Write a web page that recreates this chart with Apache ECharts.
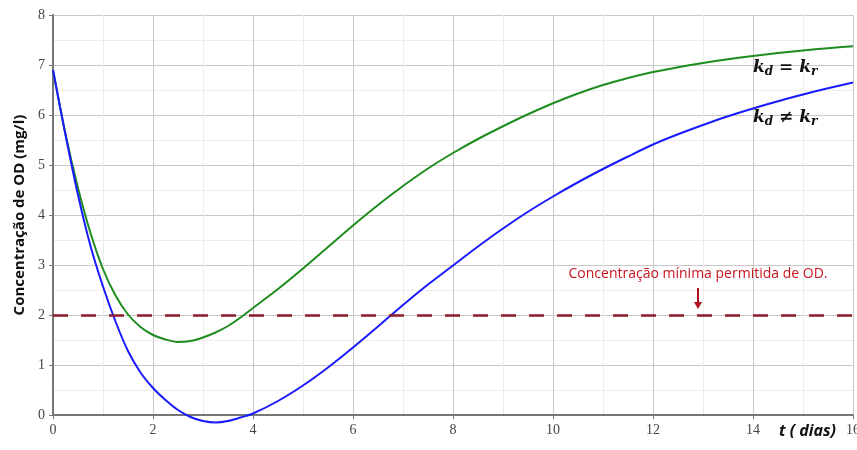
<!DOCTYPE html>
<html><head><meta charset="utf-8">
<script src="https://cdn.jsdelivr.net/npm/echarts@6/dist/echarts.min.js"></script>
<style>html,body{margin:0;padding:0;background:#fff}#c{width:857px;height:450px}</style>
</head><body><div id="c"></div>
<script>
// t (days): every 0.25 day up to 4, then every 0.5 day
const tDays = [0,0.25,0.5,0.75,1,1.25,1.5,1.75,2,2.25,2.5,2.75,3,3.25,3.5,3.75,4,
  4.5,5,5.5,6,6.5,7,7.5,8,8.5,9,9.5,10,10.5,11,11.5,12,12.5,13,13.5,14,14.5,15,15.5,16];
// DO concentration, kd = kr (green)
const greenY = [6.9,5.62,4.54,3.64,2.92,2.39,2.01,1.76,1.6,1.51,1.46,1.48,1.55,1.65,1.78,1.95,2.14,
  2.52,2.93,3.36,3.79,4.2,4.58,4.93,5.24,5.52,5.775,6.015,6.235,6.43,6.6,6.74,6.86,6.955,7.04,7.115,7.18,7.24,7.29,7.335,7.375];
// DO concentration, kd ≠ kr (blue)
const blueY = [6.9,5.6,4.4,3.38,2.57,1.87,1.28,0.85,0.54,0.3,0.1,-0.04,-0.12,-0.15,-0.12,-0.05,0.03,
  0.28,0.59,0.95,1.35,1.77,2.2,2.61,2.99,3.37,3.73,4.065,4.37,4.655,4.92,5.17,5.41,5.615,5.8,5.975,6.13,6.275,6.41,6.535,6.65];
const minDO = 2;
const xTicks = [0,2,4,6,8,10,12,14,16];
const yTicks = [0,1,2,3,4,5,6,7,8];
const annotText = 'Concentração mínima permitida de OD.';
const annotT = 12.9;

const chart = echarts.init(document.getElementById('c'), null, {renderer:'canvas'});
const tickFont = {fontFamily:'Liberation Serif', fontSize:14, color:'#444'};
chart.setOption({
  animation:false,
  grid:{left:53, right:4, top:15, bottom:35, containLabel:false, outerBoundsMode:'none'},
  xAxis:{type:'value', min:0, max:16, interval:2,
    axisLine:{show:true, onZero:false, lineStyle:{color:'#777', width:2}},
    axisTick:{show:true, length:4, lineStyle:{color:'#777'}},
    axisLabel:Object.assign({margin:8, formatter:v=>xTicks.includes(v)?String(v):''}, tickFont),
    splitLine:{show:true, lineStyle:{color:'#c8c8c8', width:1}},
    minorTick:{show:false, splitNumber:2},
    minorSplitLine:{show:true, lineStyle:{color:'#ececec', width:1}}
  },
  yAxis:{type:'value', min:0, max:8, interval:1,
    axisLine:{show:true, onZero:false, lineStyle:{color:'#777', width:2}},
    axisTick:{show:true, length:4, lineStyle:{color:'#777'}},
    axisLabel:Object.assign({margin:8, formatter:v=>yTicks.includes(v)?String(v):''}, tickFont),
    splitLine:{show:true, lineStyle:{color:'#c8c8c8', width:1}},
    minorTick:{show:false, splitNumber:2},
    minorSplitLine:{show:true, lineStyle:{color:'#ececec', width:1}},
    name:'Concentração de OD (mg/l)', nameLocation:'middle', nameGap:26,
    nameTextStyle:{fontFamily:'Open Sans', fontWeight:'bold', fontSize:15, color:'#111'}
  },
  series:[
    {type:'line', name:'kd=kr', data:tDays.map((t,i)=>[t,greenY[i]]), smooth:0.3, showSymbol:false, clip:false,
     lineStyle:{color:'#1f8c1f', width:2}, z:3,
     markLine:{silent:true, symbol:'none', label:{show:false},
       lineStyle:{color:'#8b1a2b', type:[15,13], width:2.5}, data:[{yAxis:minDO}]}},
    {type:'line', name:'kd≠kr', data:tDays.map((t,i)=>[t,blueY[i]]), smooth:0.3, showSymbol:false, clip:false,
     lineStyle:{color:'#1a1aff', width:2}, z:4}
  ]
});

function px(t,y){return chart.convertToPixel({gridIndex:0},[t,y]);}
const pA = px(annotT, minDO);
const pText = px(annotT, 2.82);
const rich = {k:{fontFamily:'DejaVu Serif', fontStyle:'italic', fontWeight:'bold', fontSize:17, fill:'#111'},
              s:{fontFamily:'DejaVu Serif', fontStyle:'italic', fontWeight:'bold', fontSize:12, fill:'#111', padding:[8,0,0,0]}};
chart.setOption({graphic:[
  {type:'text', x:pText[0], y:pText[1], style:{text:annotText, fill:'#c8141e', font:'14px "Open Sans"', align:'center', verticalAlign:'middle'}},
  {type:'line', shape:{x1:pA[0], y1:pA[1]-27, x2:pA[0], y2:pA[1]-12}, style:{stroke:'#b0101c', lineWidth:2}},
  {type:'polygon', shape:{points:[[pA[0]-4,pA[1]-13],[pA[0]+4,pA[1]-13],[pA[0],pA[1]-6]]}, style:{fill:'#b0101c'}},
  {type:'text', x:px(14,7)[0], y:px(14,7)[1]+3, style:{text:'{k|k}{s|d}{k| = k}{s|r}', rich:rich, verticalAlign:'middle'}},
  {type:'text', x:px(14,6)[0], y:px(14,6)[1]+3, style:{text:'{k|k}{s|d}{k| ≠ k}{s|r}', rich:rich, verticalAlign:'middle'}},
  {type:'text', x:px(16,0)[0]-17, y:px(16,0)[1]+16, style:{text:'t ( dias)', fill:'#111', font:'italic bold 16px "Open Sans"', align:'right', verticalAlign:'middle'}}
]});
</script></body></html>
